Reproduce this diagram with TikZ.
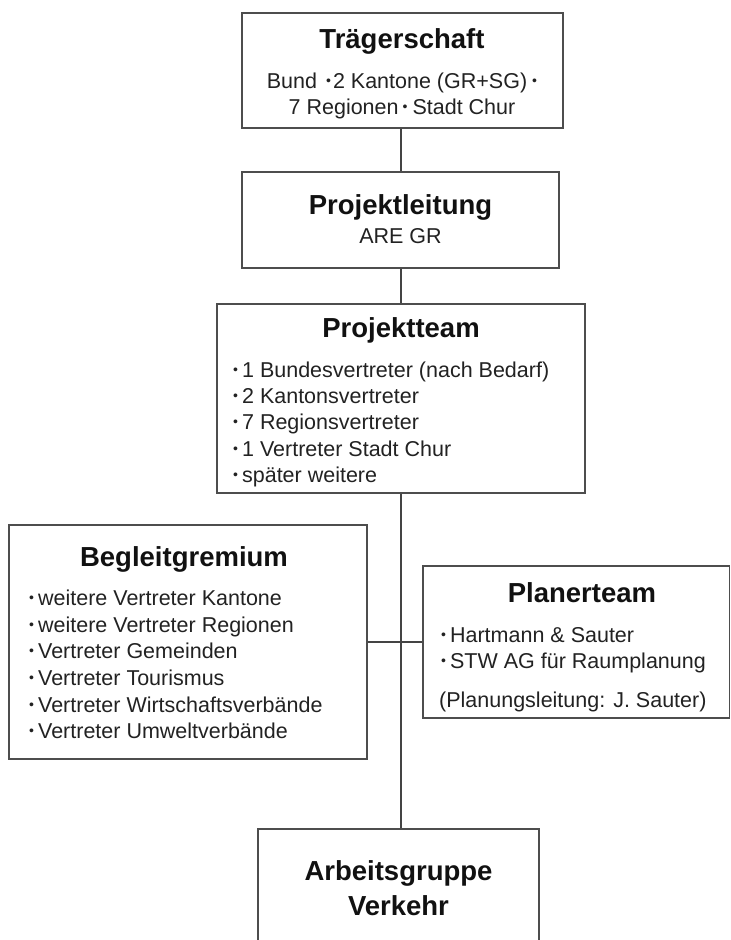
\documentclass[tikz,border=0pt]{standalone}
\usepackage{fontspec}
\setmainfont{Liberation Sans}
\definecolor{boxgray}{HTML}{4D4D4D}
\definecolor{linegray}{HTML}{444444}
\definecolor{titleblack}{HTML}{111111}
\definecolor{bodyblack}{HTML}{222222}
\newcommand{\bulmark}{\raisebox{2.6pt}{\fontsize{14}{14}\selectfont •}}
\newcommand{\bul}{\bulmark\hspace{4pt}}
\begin{document}
\begin{tikzpicture}[x=1pt,y=-1pt,
  box/.style={draw=boxgray, line width=1.3pt, inner sep=0pt, fill=white},
  title/.style={font=\fontsize{27.5}{35}\selectfont\bfseries, text=titleblack, inner sep=0pt, anchor=base},
  body/.style={font=\fontsize{21.5}{26.5}\selectfont, text=bodyblack, inner sep=0pt, anchor=base west},
  bodyc/.style={body, anchor=base},
  link/.style={draw=linegray, line width=1.1pt}]
\useasboundingbox (0,0) rectangle (731,940);
\clip (0,0) rectangle (731,940);

% boxes
\node[box, minimum width=321pt, minimum height=115pt] (trag) at (402.5,70.5) {};
\node[box, minimum width=317pt, minimum height=96pt] (pl) at (400.5,220) {};
\node[box, minimum width=368pt, minimum height=189pt] (pt) at (401,398.5) {};
\node[box, minimum width=358pt, minimum height=234pt] (bg) at (188,642) {};
\node[box, minimum width=306.5pt, minimum height=152pt] (plan) at (576.25,642) {};
\node[box, minimum width=281pt, minimum height=130pt] (ag) at (398.5,894) {};

% connectors
\coordinate (spine) at (401,0);
\draw[link] (trag.south -| spine) -- (pl.north -| spine);
\draw[link] (pl.south -| spine) -- (pt.north -| spine);
\draw[link] (pt.south -| spine) -- (ag.north -| spine);
\draw[link] (bg.east) -- (plan.west);

% Traegerschaft
\node[title] (tragT) at (402,48) {Trägerschaft};
\node[bodyc] (tragB1) at (402,88) {Bund\hspace{9pt}\bulmark\hspace{2pt}2 Kantone (GR+SG)\hspace{5pt}\bulmark};
\node[bodyc] (tragB2) at (402,114) {7 Regionen\hspace{4pt}\bulmark\hspace{5pt}Stadt Chur};

% Projektleitung
\node[title] (plT) at (400.5,214) {Projektleitung};
\node[bodyc] (plB) at (400.5,243) {ARE GR};

% Projektteam
\node[title] (ptT) at (401,337) {Projektteam};
\node[body] (pt1) at (233,377) {\bul 1 Bundesvertreter (nach Bedarf)};
\node[body] (pt2) at (233,403) {\bul 2 Kantonsvertreter};
\node[body] (pt3) at (233,429.5) {\bul 7 Regionsvertreter};
\node[body] (pt4) at (233,456) {\bul 1 Vertreter Stadt Chur};
\node[body] (pt5) at (233,482) {\bul später weitere};

% Begleitgremium
\node[title] (bgT) at (184,566) {Begleitgremium};
\node[body] (bg1) at (29,605) {\bul weitere Vertreter Kantone};
\node[body] (bg2) at (29,632) {\bul weitere Vertreter Regionen};
\node[body] (bg3) at (29,658) {\bul Vertreter Gemeinden};
\node[body] (bg4) at (29,685) {\bul Vertreter Tourismus};
\node[body] (bg5) at (29,712) {\bul Vertreter Wirtschaftsverbände};
\node[body] (bg6) at (29,738) {\bul Vertreter Umweltverbände};

% Planerteam
\node[title] (planT) at (582,602) {Planerteam};
\node[body] (plan1) at (441,642) {\bul Hartmann \& Sauter};
\node[body] (plan2) at (441,668) {\bul STW AG für Raumplanung};
\node[body] (plan3) at (439,707) {(Planungsleitung: J. Sauter)};

% Arbeitsgruppe Verkehr
\node[title] (agT1) at (398.5,880) {Arbeitsgruppe};
\node[title] (agT2) at (398.5,915) {Verkehr};
\end{tikzpicture}
\end{document}
